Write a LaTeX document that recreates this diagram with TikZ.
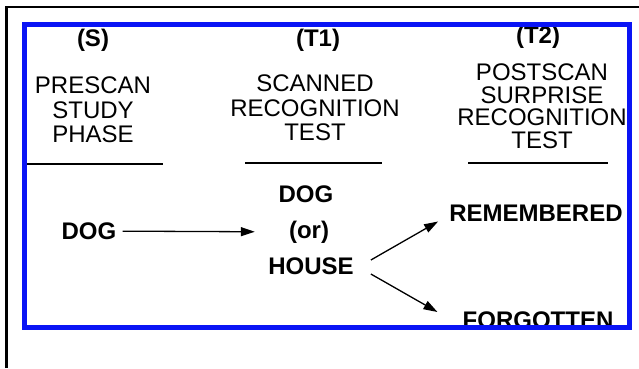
\documentclass[tikz,border=0pt]{standalone}
\usepackage{fontspec}
\setmainfont{Liberation Sans}
\usetikzlibrary{arrows.meta}
\definecolor{frameblue}{HTML}{0A14F5}

\begin{document}
\begin{tikzpicture}[x=1pt, y=-1pt,
  header/.style={inner sep=0, anchor=north, align=center, font=\fontsize{24}{24.5}\selectfont},
  label/.style={inner sep=0, font=\fontsize{24}{24}\selectfont\bfseries},
  arr/.style={line width=1.3pt, -{Triangle[length=14pt, width=9pt]}},
  rule/.style={line width=1.5pt}]
\useasboundingbox (0,0) rectangle (639,368);
\fill[white] (0,0) rectangle (639,368);

% outer frame, open to the right and the bottom
\draw[line width=2.5pt] (6.5,368) -- (6.5,7) -- (639,7);

% column heads
\node[label] (tagS) at (93,40) {(S)};
\node[label] (tagT1) at (318,40) {(T1)};
\node[label] (tagT2) at (538,37) {(T2)};

\node[header] (headS) at (93,77) {PRESCAN\\STUDY\\PHASE};
\node[header] (headT1) at (315,75) {SCANNED\\RECOGNITION\\TEST};
\node[header, font=\fontsize{24}{22.4}\selectfont] (headT2) at (542,64) {POSTSCAN\\SURPRISE\\RECOGNITION\\TEST};

\draw[rule] (26,164) -- (163,164);
\draw[rule] (245,163) -- (382,163);
\draw[rule] (468,163) -- (608,163);

% words
\node[label] (dogS) at (89,231) {DOG};
\node[label] (dogT) at (306,194) {DOG};
\node[label] (orT) at (309,232) {(or)};
\node[label] (houseT) at (311,266) {HOUSE};
\node[label] (remembered) at (536,213) {REMEMBERED};
\node[label, anchor=north] (forgotten) at (538,312) {FORGOTTEN};

\draw[arr, shorten <=6pt, shorten >=34pt] (dogS) -- (orT);
\draw[arr] ([shift={(17,-6)}]houseT.east) -- ([xshift=-11pt]remembered.south west);
\draw[arr] ([shift={(17,8)}]houseT.east) -- ([xshift=-25pt]forgotten.north west);

% blue box drawn last, over the words it cuts
\draw[frameblue, line width=5pt] (24,24) rectangle (629,327);

\end{tikzpicture}
\end{document}
